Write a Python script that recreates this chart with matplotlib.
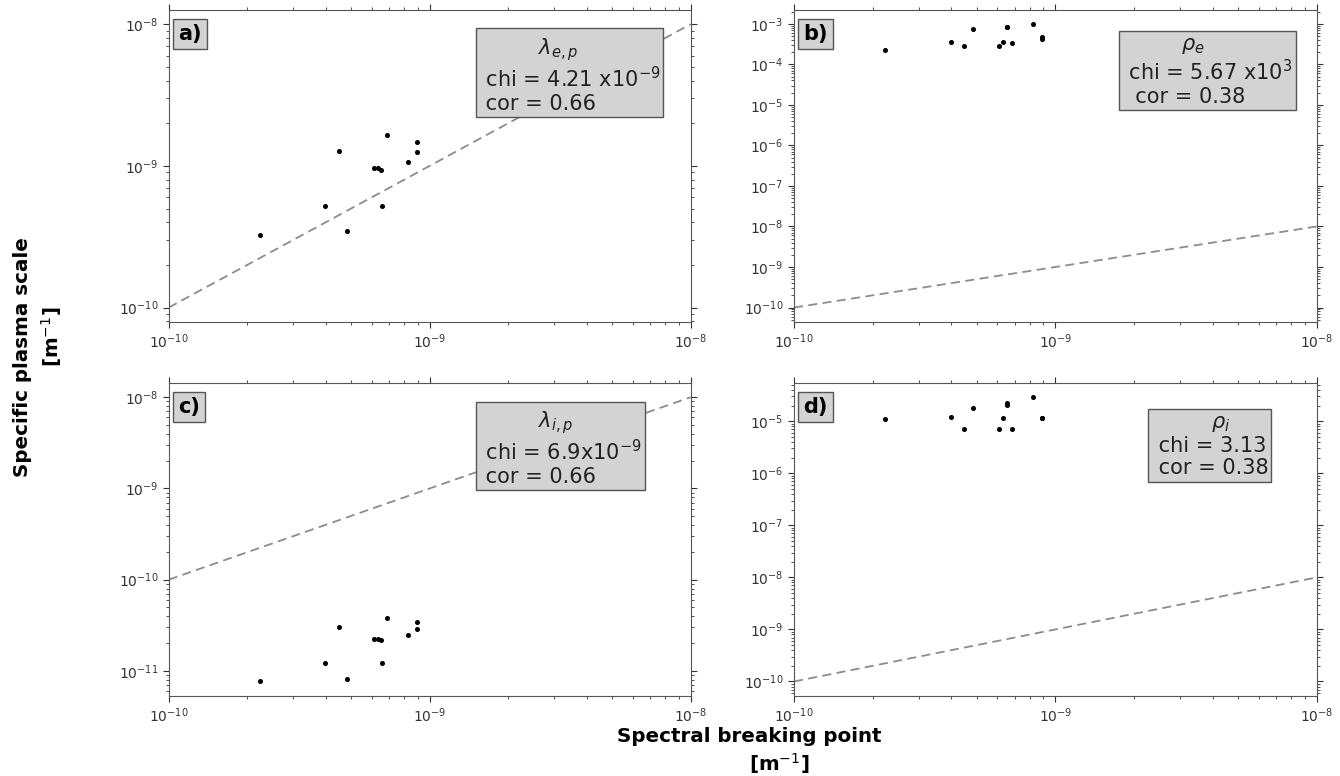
import matplotlib
matplotlib.use("Agg")
import matplotlib.pyplot as plt
import numpy as np

# Spectral breaking point (x, m^-1), shared by all panels
x_break = [2.23e-10, 3.98e-10, 4.49e-10, 4.82e-10, 6.10e-10, 6.32e-10,
           6.51e-10, 6.56e-10, 6.85e-10, 8.24e-10, 8.92e-10, 8.92e-10]

# Panel a: lambda_e,p
lam_e = [3.23e-10, 5.24e-10, 1.28e-09, 3.49e-10, 9.58e-10, 9.58e-10,
         9.37e-10, 5.24e-10, 1.65e-09, 1.07e-09, 1.48e-09, 1.25e-09]
# Panel b: rho_e
rho_e = [2.31e-4, 3.58e-4, 2.85e-4, 7.66e-4, 2.80e-4, 3.58e-4,
         8.20e-4, 8.30e-4, 3.38e-4, 9.80e-4, 4.67e-4, 4.33e-4]
# Panel c: lambda_i,p
lam_i = [7.66e-12, 1.23e-11, 3.01e-11, 8.20e-12, 2.24e-11, 2.24e-11,
         2.18e-11, 1.23e-11, 3.85e-11, 2.50e-11, 3.45e-11, 2.91e-11]
# Panel d: rho_i
rho_i = [1.13e-5, 1.21e-5, 7.11e-6, 1.81e-5, 7.11e-6, 1.18e-5,
         2.26e-5, 2.01e-5, 7.11e-6, 2.90e-5, 1.18e-5, 1.18e-5]

# identity reference line
ref_x = [1e-10, 1e-8]
ref_y = [1e-10, 1e-8]

panel_letters = ["a)", "b)", "c)", "d)"]
panel_texts = [
    "         $\\lambda_{e,p}$\n chi = 4.21 x10$^{-9}$\n cor = 0.66",
    "         $\\rho_e$\n chi = 5.67 x10$^{3}$\n  cor = 0.38",
    "         $\\lambda_{i,p}$\n chi = 6.9x10$^{-9}$\n cor = 0.66",
    "         $\\rho_i$\n chi = 3.13\n cor = 0.38",
]
box_pos = [(0.594, 0.916), (0.628, 0.916), (0.594, 0.916), (0.684, 0.902)]
series = [lam_e, rho_e, lam_i, rho_i]

W, H = 1340, 776
fig = plt.figure(figsize=(W / 100, H / 100), dpi=100)

def ax_rect(l, r, t, b):
    return [l / W, 1 - b / H, (r - l) / W, (b - t) / H]

rects = [ax_rect(168.7, 690.7, 10, 321.7), ax_rect(794, 1316.7, 10, 321.7),
         ax_rect(168.7, 690.7, 383, 695.7), ax_rect(794, 1316.7, 383, 695.7)]

for i in range(4):
    ax = fig.add_axes(rects[i])
    ax.set_xscale("log")
    ax.set_yscale("log")
    ax.plot(ref_x, ref_y, linestyle="--", color="#8c8c8c", lw=1.3,
            dashes=(5, 3))
    ax.plot(x_break, series[i], "o", color="black", markersize=2.6,
            linestyle="none")
    ax.set_xlim(1e-10, 1e-8)
    ax.tick_params(which="both", top=True, right=True, direction="out",
                   labelsize=10, colors="#333333")
    ax.tick_params(which="major", length=4)
    ax.tick_params(which="minor", length=2.2)
    for sp in ax.spines.values():
        sp.set_color("#555555")
    ax.text(0.018, 0.955, panel_letters[i], transform=ax.transAxes,
            fontsize=15, fontweight="bold", va="top", ha="left",
            bbox=dict(boxstyle="square,pad=0.25", facecolor="#d3d3d3",
                      edgecolor="#555555"))
    ax.text(box_pos[i][0], box_pos[i][1], panel_texts[i],
            transform=ax.transAxes, fontsize=15, va="top", ha="left",
            color="#222222", linespacing=1.15,
            bbox=dict(boxstyle="square,pad=0.15", facecolor="#d3d3d3",
                      edgecolor="#555555"))

fig.text(749 / W, 1 - 737 / H, "Spectral breaking point", fontsize=14.3,
         fontweight="bold", ha="center", va="center")
fig.text(779 / W, 1 - 764 / H, "[m$^{-1}$]", fontsize=14.3,
         fontweight="bold", ha="center", va="center")
fig.text(23 / W, 1 - 357 / H, "Specific plasma scale", fontsize=14.3,
         fontweight="bold", ha="center", va="center", rotation=90)
fig.text(52 / W, 1 - 337 / H, "[m$^{-1}$]", fontsize=14.3,
         fontweight="bold", ha="center", va="center", rotation=90)

fig.savefig("out.png", dpi=100)
